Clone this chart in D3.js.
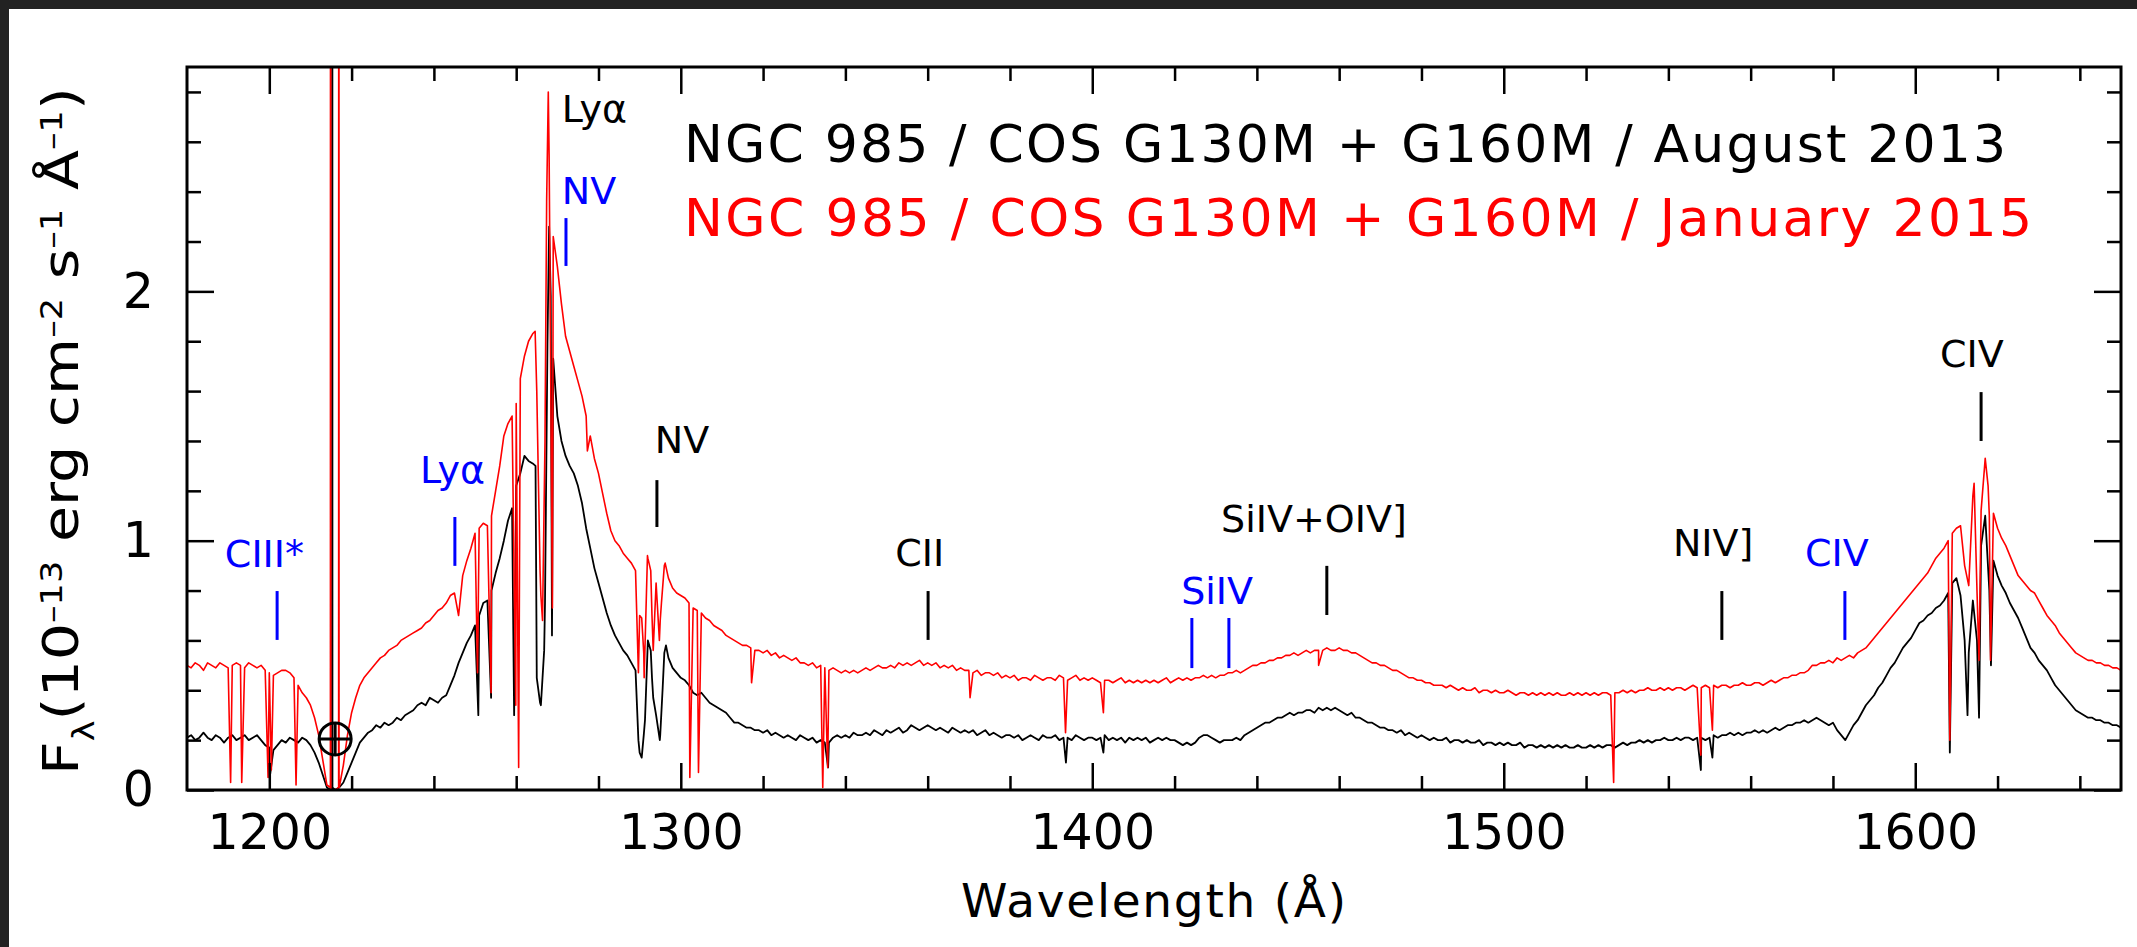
<!DOCTYPE html>
<html>
<head>
<meta charset="utf-8">
<script src="https://cdn.jsdelivr.net/npm/d3@7"></script>
<style>
  body { margin: 0; background: #fff; }
</style>
</head>
<body>
<svg id="chart" width="2137" height="947"></svg>
<script>
// Spectra on a 1 Å grid starting at 1180 Å (units: 1e-13 erg/cm2/s/Å)
const waveStart = 1180;

const flux2013 = [
  .21,.22,.20,.21,.23,.21,.20,.22,.21,.19,
  .21,.22,.20,.21,.22,.20,.21,.22,.20,.18,
  .17,.16,.18,.20,.19,.21,.20,.19,.21,.20,
  .18,.15,.11,.06,.01,.00,.00,.01,.03,.07,
  .11,.15,.19,.21,.23,.24,.26,.25,.27,.26,
  .27,.29,.28,.30,.31,.32,.34,.35,.34,.37,
  .36,.35,.37,.38,.42,.46,.51,.55,.59,.62,
  .66,.70,.75,.76,.80,.87,.93,1.00,1.08,1.13,
  1.22,1.27,1.34,1.32,1.31,.45,.34,.75,2.26,1.73,
  1.50,1.40,1.34,1.30,1.27,1.22,1.15,1.05,.97,.89,
  .83,.77,.71,.66,.62,.59,.56,.54,.51,.48,
  .15,.22,.60,.45,.30,.22,.55,.53,.49,.47,
  .45,.44,.42,.39,.38,.39,.37,.35,.34,.33,
  .32,.31,.29,.27,.27,.26,.25,.25,.24,.24,
  .23,.24,.22,.23,.22,.21,.22,.21,.20,.22,
  .21,.20,.21,.19,.20,.19,.19,.21,.22,.21,
  .22,.21,.23,.22,.22,.23,.22,.24,.23,.22,
  .24,.23,.24,.25,.23,.24,.26,.25,.24,.25,
  .26,.25,.24,.25,.24,.23,.25,.24,.23,.24,
  .23,.24,.22,.23,.24,.22,.23,.22,.21,.22,
  .22,.21,.22,.20,.21,.22,.21,.20,.22,.21,
  .21,.22,.20,.21,.21,.20,.22,.21,.20,.21,
  .21,.20,.21,.22,.20,.21,.20,.21,.19,.21,
  .20,.21,.20,.21,.19,.20,.21,.20,.21,.20,
  .20,.19,.18,.19,.18,.19,.21,.22,.22,.21,
  .20,.19,.20,.20,.20,.21,.20,.22,.23,.24,
  .25,.26,.27,.27,.28,.29,.29,.30,.31,.30,
  .31,.31,.32,.32,.31,.33,.32,.33,.32,.33,
  .32,.31,.30,.31,.29,.29,.28,.27,.27,.26,
  .25,.25,.24,.24,.23,.24,.22,.23,.22,.21,
  .22,.21,.20,.21,.20,.20,.21,.19,.20,.20,
  .19,.20,.19,.19,.20,.18,.19,.19,.18,.19,
  .18,.19,.18,.18,.19,.17,.18,.18,.17,.18,
  .17,.18,.17,.18,.17,.18,.17,.17,.18,.17,
  .17,.18,.17,.18,.17,.18,.18,.17,.18,.19,
  .18,.19,.19,.20,.19,.20,.19,.20,.20,.21,
  .20,.20,.21,.20,.21,.21,.20,.21,.21,.20,
  .21,.22,.21,.22,.22,.23,.22,.23,.22,.23,
  .23,.24,.23,.24,.23,.24,.25,.24,.25,.26,
  .26,.27,.27,.28,.27,.28,.29,.28,.27,.26,
  .27,.24,.22,.20,.23,.26,.28,.31,.34,.36,
  .38,.41,.43,.46,.49,.51,.54,.57,.59,.61,
  .64,.67,.68,.70,.71,.73,.74,.76,.79,.83,
  .85,.78,.60,.55,.76,.60,.98,1.10,.80,.92,
  .86,.82,.79,.75,.72,.69,.65,.61,.57,.55,
  .52,.50,.48,.45,.42,.40,.38,.36,.34,.32,
  .31,.30,.29,.29,.28,.28,.27,.27,.26,.26,
  .25
];

const flux2015 = [
  .50,.49,.51,.50,.48,.51,.50,.49,.51,.50,
  .49,.50,.51,.50,.49,.51,.50,.49,.50,.48,
  .47,.46,.47,.48,.48,.47,.45,.42,.39,.37,
  .34,.29,.22,.12,.02,.00,.00,.01,.10,.22,
  .31,.37,.42,.45,.47,.49,.51,.53,.54,.56,
  .57,.58,.60,.61,.62,.63,.64,.65,.67,.68,
  .70,.72,.73,.75,.78,.79,.70,.86,.92,.97,
  1.03,1.05,1.07,1.06,1.10,1.20,1.30,1.42,1.47,1.50,
  1.55,1.65,1.74,1.80,1.83,1.60,.78,1.40,2.55,2.22,
  2.10,1.95,1.82,1.76,1.70,1.64,1.58,1.50,1.42,1.33,
  1.27,1.19,1.11,1.04,1.00,.98,.95,.93,.91,.88,
  .70,.55,.93,.70,.83,.68,.90,.85,.81,.79,
  .78,.77,.75,.73,.72,.71,.69,.68,.66,.65,
  .64,.62,.61,.60,.59,.58,.58,.57,.56,.56,
  .55,.56,.54,.55,.53,.54,.53,.52,.53,.51,
  .51,.50,.51,.49,.50,.49,.48,.49,.48,.47,
  .48,.47,.48,.47,.48,.49,.48,.49,.50,.49,
  .49,.50,.49,.51,.50,.51,.50,.51,.52,.50,
  .51,.50,.51,.49,.50,.49,.50,.48,.49,.48,
  .48,.47,.48,.46,.47,.47,.46,.47,.45,.46,
  .45,.46,.44,.45,.45,.44,.46,.45,.44,.45,
  .45,.44,.46,.45,.44,.45,.46,.44,.45,.44,
  .45,.44,.43,.44,.44,.43,.44,.45,.43,.44,
  .43,.44,.43,.44,.43,.44,.43,.44,.45,.43,
  .44,.45,.44,.45,.44,.45,.45,.46,.45,.46,
  .45,.46,.46,.47,.47,.48,.47,.48,.49,.50,
  .50,.51,.51,.52,.52,.53,.53,.54,.54,.55,
  .54,.55,.56,.55,.56,.56,.56,.57,.56,.56,
  .57,.56,.56,.55,.55,.54,.53,.52,.51,.51,
  .50,.50,.49,.48,.48,.47,.46,.45,.45,.44,
  .44,.43,.43,.42,.42,.42,.41,.42,.41,.40,
  .41,.40,.40,.41,.39,.40,.40,.39,.40,.39,
  .39,.40,.39,.38,.39,.39,.38,.39,.38,.39,
  .38,.39,.38,.39,.38,.38,.39,.38,.39,.38,
  .39,.38,.39,.38,.39,.39,.38,.39,.39,.40,
  .39,.40,.39,.40,.40,.41,.40,.40,.41,.40,
  .41,.40,.41,.41,.40,.41,.42,.41,.41,.42,
  .41,.42,.41,.42,.42,.41,.42,.42,.43,.42,
  .42,.43,.43,.42,.43,.44,.43,.44,.45,.45,
  .46,.46,.47,.47,.48,.50,.50,.51,.51,.52,
  .51,.53,.52,.53,.54,.53,.55,.56,.57,.59,
  .61,.63,.65,.67,.69,.71,.73,.75,.77,.79,
  .81,.83,.85,.87,.90,.93,.95,.97,1.00,1.03,
  1.05,1.06,.90,.82,1.18,.80,1.12,1.33,1.10,1.11,
  1.05,1.01,.98,.94,.90,.86,.84,.82,.80,.79,
  .76,.73,.70,.68,.66,.63,.61,.59,.57,.55,
  .54,.53,.52,.52,.51,.51,.50,.50,.49,.49,
  .48
];

// narrow features (absorption dips, geocoronal Lya spikes) as [wavelength, flux]
const lines2013 = [
  [1200.1, .05],
  [1215.25, .01], [1215.3, 9], [1215.35, .01],
  [1250.8, .30], [1253.9, .37], [1259.5, .30],
  [1264.7, 1.30], [1265.8, .35], [1266.8, .56], [1267.6, 1.79], [1268.4, 1.98], [1268.7, .62],
  [1289.7, .20], [1290.5, .13], [1291.3, .28], [1292.7, .56], [1293.3, .37], [1294.9, .20], [1295.6, .41], [1296.4, .58],
  [1335.8, .09], [1393.6, .11], [1402.7, .15],
  [1547.9, .08], [1550.7, .13],
  [1608.4, .15], [1612.7, .30], [1615.5, .29], [1618.4, .50]
];

const lines2015 = [
  [1190.6, .03], [1193.3, .03], [1199.7, .05], [1200.5, .08], [1206.5, .02],
  [1214.85, .01], [1214.9, 9], [1214.95, .01],
  [1216.85, .01], [1216.9, 9], [1216.95, .01],
  [1250.6, .47], [1253.9, .39], [1259.9, .34], [1260.6, .09],
  [1264.6, 1.84], [1265.8, .88], [1266.4, .68], [1267.4, 2.36], [1267.8, 2.80], [1268.5, 1.41], [1268.8, .73],
  [1277.3, 1.36],
  [1289.7, .47], [1290.5, .69], [1291.1, .45], [1291.9, .94], [1292.7, .88], [1293.3, .56], [1294.8, .60], [1295.3, .75], [1296.2, .91],
  [1302.2, .05], [1304.3, .07], [1317.2, .43],
  [1334.5, .01], [1335.7, .09], [1370.3, .37], [1393.5, .23], [1402.7, .31], [1455.0, .50],
  [1526.7, .03], [1547.9, .14], [1550.7, .24],
  [1608.4, .20], [1614.3, 1.23], [1615.5, .52], [1617.7, 1.22], [1618.3, .52]
];

const xTicks = [1200, 1300, 1400, 1500, 1600];
const yTicks = [0, 1, 2];

const titles = [
  'NGC 985 / COS G130M + G160M / August 2013',
  'NGC 985 / COS G130M + G160M / January 2015'
];

// line identifications: marker wavelength(s), marker span in flux, label start (wavelength, flux)
const marks = [
  { label: 'CIII*',     kind: 'abs', waves: [1201.9],         lo: 0.602, hi: 0.798, lw: 1189.2, lf: 0.894 },
  { label: 'Lyα',       kind: 'abs', waves: [1245.1],         lo: 0.899, hi: 1.095, lw: 1236.6, lf: 1.231 },
  { label: 'Lyα',       kind: 'em',  waves: [],               lo: 0,     hi: 0,     lw: 1271.1, lf: 2.680 },
  { label: 'NV',        kind: 'abs', waves: [1272.1],         lo: 2.102, hi: 2.294, lw: 1271.1, lf: 2.351 },
  { label: 'NV',        kind: 'em',  waves: [1294.2],         lo: 1.055, hi: 1.243, lw: 1293.7, lf: 1.352 },
  { label: 'CII',       kind: 'em',  waves: [1360.1],         lo: 0.602, hi: 0.798, lw: 1352.1, lf: 0.899 },
  { label: 'SiIV',      kind: 'abs', waves: [1424.2, 1433.2], lo: 0.489, hi: 0.690, lw: 1421.6, lf: 0.746 },
  { label: 'SiIV+OIV]', kind: 'em',  waves: [1457.0],         lo: 0.702, hi: 0.899, lw: 1431.3, lf: 1.035 },
  { label: 'NIV]',      kind: 'em',  waves: [1553.0],         lo: 0.602, hi: 0.798, lw: 1541.1, lf: 0.939 },
  { label: 'CIV',       kind: 'abs', waves: [1582.9],         lo: 0.602, hi: 0.798, lw: 1573.2, lf: 0.899 },
  { label: 'CIV',       kind: 'em',  waves: [1616.0],         lo: 1.400, hi: 1.596, lw: 1606.0, lf: 1.697 }
];

const markColor = { abs: '#0000ff', em: '#000000' };
const font = '"DejaVu Sans", sans-serif';

const svg = d3.select('#chart');
const L = 187, R = 2121, T = 67, B = 790;

svg.append('rect').attr('width', 2137).attr('height', 947).attr('fill', '#fff');
svg.append('rect').attr('width', 2137).attr('height', 9).attr('fill', '#222');
svg.append('rect').attr('width', 9).attr('height', 947).attr('fill', '#222');

const x = d3.scaleLinear().domain([1180, 1650]).range([L, R]);
const y = d3.scaleLinear().domain([0, 2.9]).range([B, T]);

svg.append('clipPath').attr('id', 'plot-clip')
  .append('rect').attr('x', L).attr('y', T).attr('width', R - L).attr('height', B - T);

const buildSeries = (flux, extra) =>
  flux.map((f, i) => [waveStart + i, f]).concat(extra).sort((a, b) => a[0] - b[0]);

const line = d3.line().x(d => x(d[0])).y(d => y(d[1]));

const plot = svg.append('g').attr('clip-path', 'url(#plot-clip)');
plot.append('path')
  .datum(buildSeries(flux2013, lines2013))
  .attr('d', line)
  .attr('fill', 'none')
  .attr('stroke', '#000')
  .attr('stroke-width', 1.8)
  .attr('stroke-linejoin', 'round');
plot.append('path')
  .datum(buildSeries(flux2015, lines2015))
  .attr('d', line)
  .attr('fill', 'none')
  .attr('stroke', '#ff0000')
  .attr('stroke-width', 1.6)
  .attr('stroke-linejoin', 'round');

// axes: ticks point inward on all four sides
const xMinor = d3.range(1180, 1651, 20).filter(v => !xTicks.includes(v) && v > 1180 && v < 1650);
const yMinor = d3.range(0, 29).map(i => i / 10).filter(v => Math.round(v * 10) % 2 === 0 && !yTicks.includes(v) && v > 0);

const styleAxis = g => {
  g.select('.domain').remove();
  g.selectAll('.tick line').attr('stroke', '#000').attr('stroke-width', 2.5);
  g.selectAll('.tick text').attr('font-family', font).attr('font-size', 49).attr('fill', '#000');
};

svg.append('g').attr('transform', `translate(0,${B})`)
  .call(d3.axisBottom(x).tickValues(xTicks).tickSizeInner(-27).tickSizeOuter(0).tickPadding(24).tickFormat(d3.format('d')))
  .call(styleAxis);
svg.append('g').attr('transform', `translate(0,${B})`)
  .call(d3.axisBottom(x).tickValues(xMinor).tickSizeInner(-14).tickSizeOuter(0).tickFormat(''))
  .call(styleAxis);
svg.append('g').attr('transform', `translate(0,${T})`)
  .call(d3.axisTop(x).tickValues(xTicks).tickSizeInner(-27).tickSizeOuter(0).tickFormat(''))
  .call(styleAxis);
svg.append('g').attr('transform', `translate(0,${T})`)
  .call(d3.axisTop(x).tickValues(xMinor).tickSizeInner(-14).tickSizeOuter(0).tickFormat(''))
  .call(styleAxis);
svg.append('g').attr('transform', `translate(${L},0)`)
  .call(d3.axisLeft(y).tickValues(yTicks).tickSizeInner(-27).tickSizeOuter(0).tickPadding(33).tickFormat(d3.format('d')))
  .call(styleAxis);
svg.append('g').attr('transform', `translate(${L},0)`)
  .call(d3.axisLeft(y).tickValues(yMinor).tickSizeInner(-14).tickSizeOuter(0).tickFormat(''))
  .call(styleAxis);
svg.append('g').attr('transform', `translate(${R},0)`)
  .call(d3.axisRight(y).tickValues(yTicks).tickSizeInner(-27).tickSizeOuter(0).tickFormat(''))
  .call(styleAxis);
svg.append('g').attr('transform', `translate(${R},0)`)
  .call(d3.axisRight(y).tickValues(yMinor).tickSizeInner(-14).tickSizeOuter(0).tickFormat(''))
  .call(styleAxis);

svg.append('rect')
  .attr('x', L).attr('y', T).attr('width', R - L).attr('height', B - T)
  .attr('fill', 'none').attr('stroke', '#000').attr('stroke-width', 3);

// earth symbol at the geocoronal Lya
const earth = svg.append('g').attr('stroke', '#000').attr('stroke-width', 3).attr('fill', 'none');
earth.append('circle').attr('cx', x(1216.0)).attr('cy', y(0.205)).attr('r', 16);
earth.append('line').attr('x1', x(1216.0) - 16).attr('x2', x(1216.0) + 16).attr('y1', y(0.205)).attr('y2', y(0.205));
earth.append('line').attr('x1', x(1216.0)).attr('x2', x(1216.0)).attr('y1', y(0.205) - 16).attr('y2', y(0.205) + 16);

// line identifications
marks.forEach(m => {
  const c = markColor[m.kind];
  m.waves.forEach(w => {
    svg.append('line')
      .attr('x1', x(w)).attr('x2', x(w))
      .attr('y1', y(m.lo)).attr('y2', y(m.hi))
      .attr('stroke', c).attr('stroke-width', 3);
  });
  svg.append('text')
    .attr('x', x(m.lw)).attr('y', y(m.lf))
    .attr('font-family', font).attr('font-size', 38)
    .attr('fill', c)
    .text(m.label);
});

// titles
svg.append('text')
  .attr('x', 684).attr('y', 162)
  .attr('font-family', font).attr('font-size', 52)
  .attr('textLength', 1322).attr('lengthAdjust', 'spacing')
  .attr('fill', '#000')
  .text(titles[0]);
svg.append('text')
  .attr('x', 684).attr('y', 236)
  .attr('font-family', font).attr('font-size', 52)
  .attr('textLength', 1348).attr('lengthAdjust', 'spacing')
  .attr('fill', '#ff0000')
  .text(titles[1]);

// x axis title
svg.append('text')
  .attr('x', 961).attr('y', 917)
  .attr('font-family', font).attr('font-size', 47)
  .attr('textLength', 385).attr('lengthAdjust', 'spacing')
  .text('Wavelength (Å)');

// y axis title, rotated, with sub/superscripts
const yl = svg.append('text')
  .attr('font-family', font).attr('font-size', 50).attr('fill', '#000');
const parts = [
  ['F', 50, 0], ['λ', 30, 16], ['(10', 50, -16], ['–13', 30, -16], [' erg cm', 50, 16],
  ['–2', 30, -16], [' s', 50, 16], ['–1', 30, -16], [' Å', 50, 16], ['–1', 30, -16], [')', 50, 16]
];
parts.forEach(([t, s, dy]) => yl.append('tspan').attr('font-size', s).attr('dy', dy).text(t));
const ylen = yl.node().getComputedTextLength();
yl.attr('transform', `translate(78,775) rotate(-90) scale(${688 / ylen},1)`);
</script>
</body>
</html>
